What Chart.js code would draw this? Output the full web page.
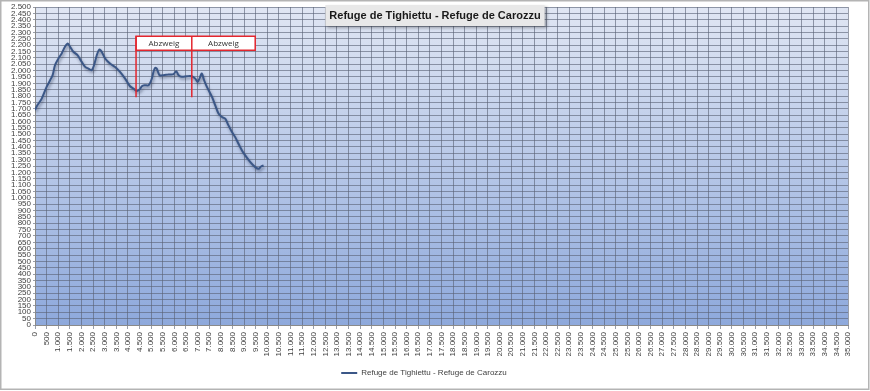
<!DOCTYPE html>
<html>
<head>
<meta charset="utf-8">
<script src="https://cdn.jsdelivr.net/npm/chart.js@4"></script>
<style>
    body { margin: 0; background: #fff; }
    #wrap { width: 870px; height: 391px; position: relative; }
</style>
</head>
<body>
<div id="wrap"><canvas id="profile"></canvas></div>
<script>
// Höhenprofil: Distanz (m) / Höhe (m)
const distance = [0, 100, 290, 500, 650, 760, 860, 1010, 1150, 1290,
    1410, 1510, 1650, 1830, 2010, 2160, 2300, 2440, 2540, 2660,
    2770, 2870, 3020, 3230, 3450, 3660, 3880, 4090, 4240, 4380,
    4500, 4600, 4710, 4890, 5030, 5100, 5170, 5240, 5360, 5530,
    5750, 5960, 6080, 6180, 6320, 6540, 6750, 6900, 7000, 7080,
    7180, 7280, 7400, 7620, 7760, 7900, 8050, 8190, 8330, 8480,
    8620, 8760, 8910, 9050, 9270, 9480, 9630, 9730, 9840];
const elevation = [1690, 1727, 1780, 1872, 1924, 1964, 2042, 2095, 2135, 2187,
    2213, 2187, 2148, 2121, 2069, 2029, 2016, 2003, 2042, 2121,
    2166, 2148, 2095, 2055, 2029, 1990, 1937, 1877, 1858, 1840,
    1851, 1877, 1885, 1885, 1937, 1990, 2021, 2016, 1964, 1964,
    1970, 1972, 1995, 1964, 1951, 1956, 1956, 1937, 1911, 1937,
    1977, 1924, 1872, 1793, 1727, 1662, 1635, 1622, 1569, 1517,
    1477, 1425, 1372, 1333, 1280, 1241, 1228, 1246, 1254];

const seriesName = 'Refuge de Tighiettu - Refuge de Carozzu';
const chartTitle = 'Refuge de Tighiettu - Refuge de Carozzu';

// Abzweig-Markierungen (in Achseneinheiten)
const branchDist = [4350, 6750];
const branchLabels = ['Abzweig', 'Abzweig'];
const branchBoxEnd = 9480;
const branchTop = 2270;
const branchBoxBottom = 2160;
const branchBottom = 1790;

const xMax = 35000, xStep = 500;
const yMax = 2500, yStep = 50;

const fmt = v => String(v).replace(/\B(?=(\d{3})+(?!\d))/g, '.');

const frame = {
    id: 'frame',
    beforeDraw(chart) {
        const { ctx, chartArea: a, width, height } = chart;
        ctx.save();
        ctx.fillStyle = '#fff';
        ctx.fillRect(0, 0, width, height);
        const g = ctx.createLinearGradient(0, a.top, 0, a.bottom);
        g.addColorStop(0, '#e0e6f3');
        g.addColorStop(1, '#8ea9dc');
        ctx.fillStyle = g;
        ctx.fillRect(a.left, a.top, a.right - a.left, a.bottom - a.top);
        ctx.strokeStyle = '#b4b4b4';
        ctx.lineWidth = 1.5;
        ctx.strokeRect(0.75, 0.75, width - 2, height - 2.5);
        ctx.restore();
    },
    beforeDatasetDraw(chart) {
        const ctx = chart.ctx;
        ctx.save();
        ctx.shadowColor = 'rgba(20,30,60,0.45)';
        ctx.shadowBlur = 3;
        ctx.shadowOffsetX = 1;
        ctx.shadowOffsetY = 2;
    },
    afterDatasetDraw(chart) {
        chart.ctx.restore();
    },
    afterDraw(chart) {
        const { ctx } = chart;
        const x = chart.scales.x, y = chart.scales.y;
        ctx.save();
        // Abzweig box + lines
        const top = y.getPixelForValue(branchTop);
        const boxBot = y.getPixelForValue(branchBoxBottom);
        const bot = y.getPixelForValue(branchBottom);
        const x0 = x.getPixelForValue(branchDist[0]);
        const xEnd = x.getPixelForValue(branchBoxEnd);
        ctx.fillStyle = '#fff';
        ctx.fillRect(x0, top, xEnd - x0, boxBot - top);
        ctx.strokeStyle = '#e3262e';
        ctx.lineWidth = 1.5;
        ctx.strokeRect(x0, top, xEnd - x0, boxBot - top);
        ctx.font = '8px "Open Sans", sans-serif';
        ctx.fillStyle = '#333';
        ctx.textAlign = 'center';
        ctx.textBaseline = 'middle';
        branchDist.forEach((d, i) => {
            const px = x.getPixelForValue(d);
            const next = i + 1 < branchDist.length ? x.getPixelForValue(branchDist[i + 1]) : xEnd;
            ctx.beginPath();
            ctx.moveTo(px, top);
            ctx.lineTo(px, bot);
            ctx.stroke();
            ctx.fillText(branchLabels[i], (px + next) / 2, (top + boxBot) / 2 + 0.5);
        });

        // Titel mit grauem Kasten
        ctx.font = 'bold 11px "Liberation Sans", sans-serif';
        const tw = ctx.measureText(chartTitle).width;
        const cx = 435, cy = 15.5;
        ctx.shadowColor = 'rgba(0,0,0,0.3)';
        ctx.shadowBlur = 3;
        ctx.shadowOffsetX = 2;
        ctx.shadowOffsetY = 2;
        ctx.fillStyle = '#e8e8e8';
        ctx.fillRect(cx - tw / 2 - 4, 5, tw + 8, 21);
        ctx.shadowColor = 'transparent';
        ctx.fillStyle = '#1a1a1a';
        ctx.fillText(chartTitle, cx, cy + 0.5);
        ctx.restore();
    }
};

new Chart(document.getElementById('profile'), {
    type: 'line',
    data: {
        datasets: [{
            label: seriesName,
            data: distance.map((d, i) => ({ x: d, y: elevation[i] })),
            borderColor: '#3b5787',
            borderWidth: 2,
            pointRadius: 0,
            tension: 0.3,
            fill: false
        }]
    },
    options: {
        responsive: true,
        maintainAspectRatio: false,
        animation: false,
        layout: { padding: { top: 7, right: 22, left: 0, bottom: 4 } },
        scales: {
            x: {
                type: 'linear',
                min: 0,
                max: xMax,
                afterFit: s => { s.height = 34; },
                ticks: {
                    stepSize: xStep,
                    autoSkip: false,
                    maxTicksLimit: 200,
                    minRotation: 90,
                    maxRotation: 90,
                    padding: 3,
                    font: { size: 8, family: '"Liberation Sans", sans-serif' },
                    color: '#404040',
                    callback: v => fmt(v)
                },
                grid: { color: 'rgba(90,98,118,0.62)', tickLength: 4 },
                border: { color: '#8a8a8a' }
            },
            y: {
                min: 0,
                max: yMax,
                afterFit: s => { s.width = 35; },
                ticks: {
                    stepSize: yStep,
                    autoSkip: false,
                    maxTicksLimit: 200,
                    padding: 2,
                    font: { size: 8, family: '"Liberation Sans", sans-serif' },
                    color: '#404040',
                    callback: v => fmt(v)
                },
                grid: { color: 'rgba(90,98,118,0.62)', tickLength: 2 },
                border: { color: '#8a8a8a' }
            }
        },
        plugins: {
            legend: {
                display: true,
                position: 'bottom',
                labels: {
                    usePointStyle: true,
                    pointStyle: 'line',
                    pointStyleWidth: 16,
                    padding: 10,
                    color: '#404040',
                    font: { size: 8, family: '"Liberation Sans", sans-serif' }
                }
            },
            tooltip: { enabled: false }
        }
    },
    plugins: [frame]
});
</script>
</body>
</html>
